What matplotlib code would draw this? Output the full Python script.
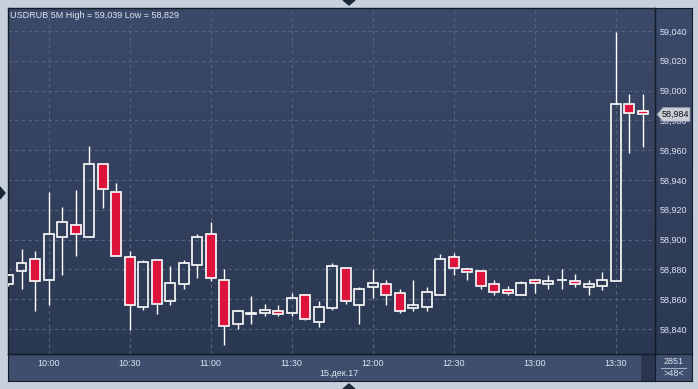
import matplotlib
matplotlib.use("Agg")
import matplotlib.pyplot as plt
import numpy as np
from matplotlib.patches import Polygon, Rectangle
from matplotlib.colors import LinearSegmentedColormap

# 5 minute USDRUB candles, 15 Dec 2017
times = ["09:45", "09:50", "09:55", "10:00", "10:05", "10:10", "10:15", "10:20",
         "10:25", "10:30", "10:35", "10:40", "10:45", "10:50", "10:55", "11:00",
         "11:05", "11:10", "11:15", "11:20", "11:25", "11:30", "11:35", "11:40",
         "11:45", "11:50", "11:55", "12:00", "12:05", "12:10", "12:15", "12:20",
         "12:25", "12:30", "12:35", "12:40", "12:45", "12:50", "12:55", "13:00",
         "13:05", "13:10", "13:15", "13:20", "13:25", "13:30", "13:35", "13:40"]
opens = [58.870, 58.879, 58.887, 58.873, 58.902, 58.910, 58.902, 58.951,
         58.932, 58.888, 58.855, 58.886, 58.859, 58.870, 58.883, 58.904,
         58.873, 58.843, 58.851, 58.851, 58.852, 58.851, 58.863, 58.845,
         58.854, 58.881, 58.856, 58.868, 58.870, 58.864, 58.854, 58.855,
         58.863, 58.888, 58.880, 58.879, 58.870, 58.866, 58.863, 58.873,
         58.870, 58.873, 58.872, 58.868, 58.869, 58.872, 58.991, 58.986]
highs = [58.877, 58.894, 58.892, 58.932, 58.922, 58.933, 58.963, 58.951,
         58.938, 58.892, 58.886, 58.886, 58.882, 58.886, 58.904, 58.912,
         58.880, 58.853, 58.862, 58.857, 58.856, 58.864, 58.863, 58.859,
         58.884, 58.881, 58.868, 58.880, 58.873, 58.867, 58.873, 58.868,
         58.890, 58.891, 58.881, 58.879, 58.873, 58.869, 58.872, 58.873,
         58.876, 58.880, 58.877, 58.873, 58.878, 59.039, 58.998, 58.998]
lows = [58.869, 58.867, 58.852, 58.856, 58.876, 58.889, 58.902, 58.921,
        58.889, 58.839, 58.853, 58.850, 58.856, 58.867, 58.874, 58.872,
        58.829, 58.840, 58.843, 58.849, 58.849, 58.849, 58.846, 58.841,
        58.853, 58.857, 58.843, 58.861, 58.856, 58.851, 58.852, 58.852,
        58.863, 58.876, 58.873, 58.867, 58.863, 58.863, 58.863, 58.864,
        58.867, 58.867, 58.868, 58.863, 58.866, 58.872, 58.958, 58.962]
closes = [58.876, 58.884, 58.872, 58.904, 58.912, 58.904, 58.951, 58.934,
          58.889, 58.856, 58.885, 58.857, 58.871, 58.884, 58.902, 58.874,
          58.842, 58.852, 58.850, 58.853, 58.850, 58.861, 58.847, 58.855,
          58.882, 58.859, 58.867, 58.871, 58.863, 58.852, 58.856, 58.865,
          58.887, 58.881, 58.878, 58.869, 58.865, 58.864, 58.871, 58.871,
          58.872, 58.873, 58.870, 58.870, 58.873, 58.991, 58.985, 58.984]

tick_times = ["10:00", "10:30", "11:00", "11:30", "12:00", "12:30", "13:00", "13:30"]
price_ticks = [58.840, 58.860, 58.880, 58.900, 58.920, 58.940, 58.960, 58.980, 59.000, 59.020, 59.040]
last_price = 58.984
date_label = "15.дек.17"
title = "USDRUB 5M High = 59,039 Low = 58,829"
bars_count = "2851"
zoom_label = ">48<"

FONT = "Liberation Sans"
TXT = "#dbe5f3"
W, H = 698, 389


def to_index(t):
    h, m = t.split(":")
    return (int(h) * 60 + int(m) - 600) / 5.0


def fig_rect(x0, y0, x1, y1):
    # pixel box (top-left origin) -> figure fraction rect
    return [x0 / W, 1 - y1 / H, (x1 - x0) / W, (y1 - y0) / H]


def fx(x):
    return x / W


def fy(y):
    return 1 - y / H


def comma(v):
    return f"{v:.3f}".replace(".", ",")


def plain_panel(rect, color):
    a = fig.add_axes(rect, zorder=0)
    a.set_facecolor(color)
    a.set_xlim(0, 1)
    a.set_ylim(0, 1)
    a.set_xticks([])
    a.set_yticks([])
    for s in a.spines.values():
        s.set_color("#151c29")
    return a


x = np.array([to_index(t) for t in times])
o = np.array(opens)
c = np.array(closes)
hi = np.array(highs)
lo = np.array(lows)
up = c >= o

fig = plt.figure(figsize=(W / 100, H / 100), dpi=100)
fig.patch.set_facecolor("#c6d1dd")

xlim = (-3.0, 44.92)
ylim = (58.8232, 59.0554)

# gradient backgrounds for chart and price scale
grad = np.linspace(0, 1, 256).reshape(-1, 1)
cmap = LinearSegmentedColormap.from_list("bg", ["#3c4a69", "#2b3853"])

ax_bg = fig.add_axes(fig_rect(8, 8, 655, 354), zorder=0)
ax_bg.imshow(grad, aspect="auto", cmap=cmap, extent=[0, 1, 0, 1])
ax_bg.axis("off")

ax_rbg = fig.add_axes(fig_rect(655, 8, 692, 354), zorder=0)
ax_rbg.imshow(grad, aspect="auto", cmap=cmap, extent=[0, 1, 0, 1])
ax_rbg.set_xticks([])
ax_rbg.set_yticks([])
for s in ax_rbg.spines.values():
    s.set_color("#151c29")

# bottom time axis panel
ax_x = plain_panel(fig_rect(8, 354, 655, 381), "#3f4e6c")
ax_x.add_patch(Rectangle((633 / 647, 0), 14 / 647, 1, color="#2a3550", lw=0))

# corner box
ax_c = plain_panel(fig_rect(655, 354, 692, 381), "#3f4e6c")
ax_c.text(0.5, 0.72, bars_count, ha="center", va="center", color=TXT, fontsize=6.5, family=FONT)
ax_c.plot([0.15, 0.85], [0.5, 0.5], color="#9fb0c8", lw=0.8)
ax_c.text(0.5, 0.26, zoom_label, ha="center", va="center", color=TXT, fontsize=6.5, family=FONT)
ax_c.set_xlim(0, 1)
ax_c.set_ylim(0, 1)

# main candle axes
ax = fig.add_axes(fig_rect(8, 8, 655, 354), zorder=2)
ax.set_facecolor("none")
ax.set_xlim(*xlim)
ax.set_ylim(*ylim)

ax.grid(True, color="#56657f", linestyle=(0, (3, 3)), linewidth=0.8)
ax.set_axisbelow(True)

# wicks only outside the body
top = np.maximum(o, c)
bot = np.minimum(o, c)
ax.vlines(x, top, hi, color="white", linewidth=1.0, zorder=3)
ax.vlines(x, lo, bot, color="white", linewidth=1.0, zorder=3)

ax.bar(x[up], (c - o)[up], bottom=o[up], width=0.74, facecolor="none",
       edgecolor="white", linewidth=1.2, zorder=4)
ax.bar(x[~up], (o - c)[~up], bottom=c[~up], width=0.74, facecolor="#dc143c",
       edgecolor="white", linewidth=1.2, zorder=4)
ax.set_xlim(*xlim)
ax.set_ylim(*ylim)

ax.set_xticks([to_index(t) for t in tick_times])
ax.set_xticklabels(tick_times)
ax.set_yticks(price_ticks)
ax.set_yticklabels([comma(v) for v in price_ticks])
ax.yaxis.tick_right()
ax.tick_params(axis="y", length=0, pad=3, labelsize=6.5, labelcolor=TXT)
ax.tick_params(axis="x", length=0, pad=3.5, labelsize=6.5, labelcolor=TXT)
for lab in ax.get_xticklabels() + ax.get_yticklabels():
    lab.set_family(FONT)
for s in ax.spines.values():
    s.set_color("#151c29")
    s.set_linewidth(1.0)

fig.text(fx(339), fy(374), date_label, ha="center", va="center", color=TXT,
         fontsize=6.5, family=FONT, zorder=5)
fig.text(fx(10), fy(15), title, ha="left", va="center", color=TXT,
         fontsize=6.5, family=FONT, zorder=5)

# last price marker on the price scale
yp = 31 + (59.040 - last_price) * 1490
marker = Polygon([(fx(657), fy(yp)), (fx(663), fy(yp - 7)), (fx(690), fy(yp - 7)),
                  (fx(690), fy(yp + 7)), (fx(663), fy(yp + 7))], closed=True,
                 transform=fig.transFigure, facecolor="#c9ced6", edgecolor="#8a94a4",
                 linewidth=0.6, zorder=10)
fig.add_artist(marker)
fig.text(fx(675), fy(yp), comma(last_price), ha="center", va="center", color="#111111",
         fontsize=6.5, family=FONT, zorder=11)

# window scroll arrows
for pts in ([(343, 0), (355, 0), (349, 5)], [(343, 389), (355, 389), (349, 384)],
            [(0, 187), (0, 199), (5, 193)]):
    fig.add_artist(Polygon([(fx(px), fy(py)) for px, py in pts], closed=True,
                           transform=fig.transFigure, color="#1c2738", zorder=10))

fig.savefig("out.png", dpi=100, facecolor=fig.get_facecolor())
